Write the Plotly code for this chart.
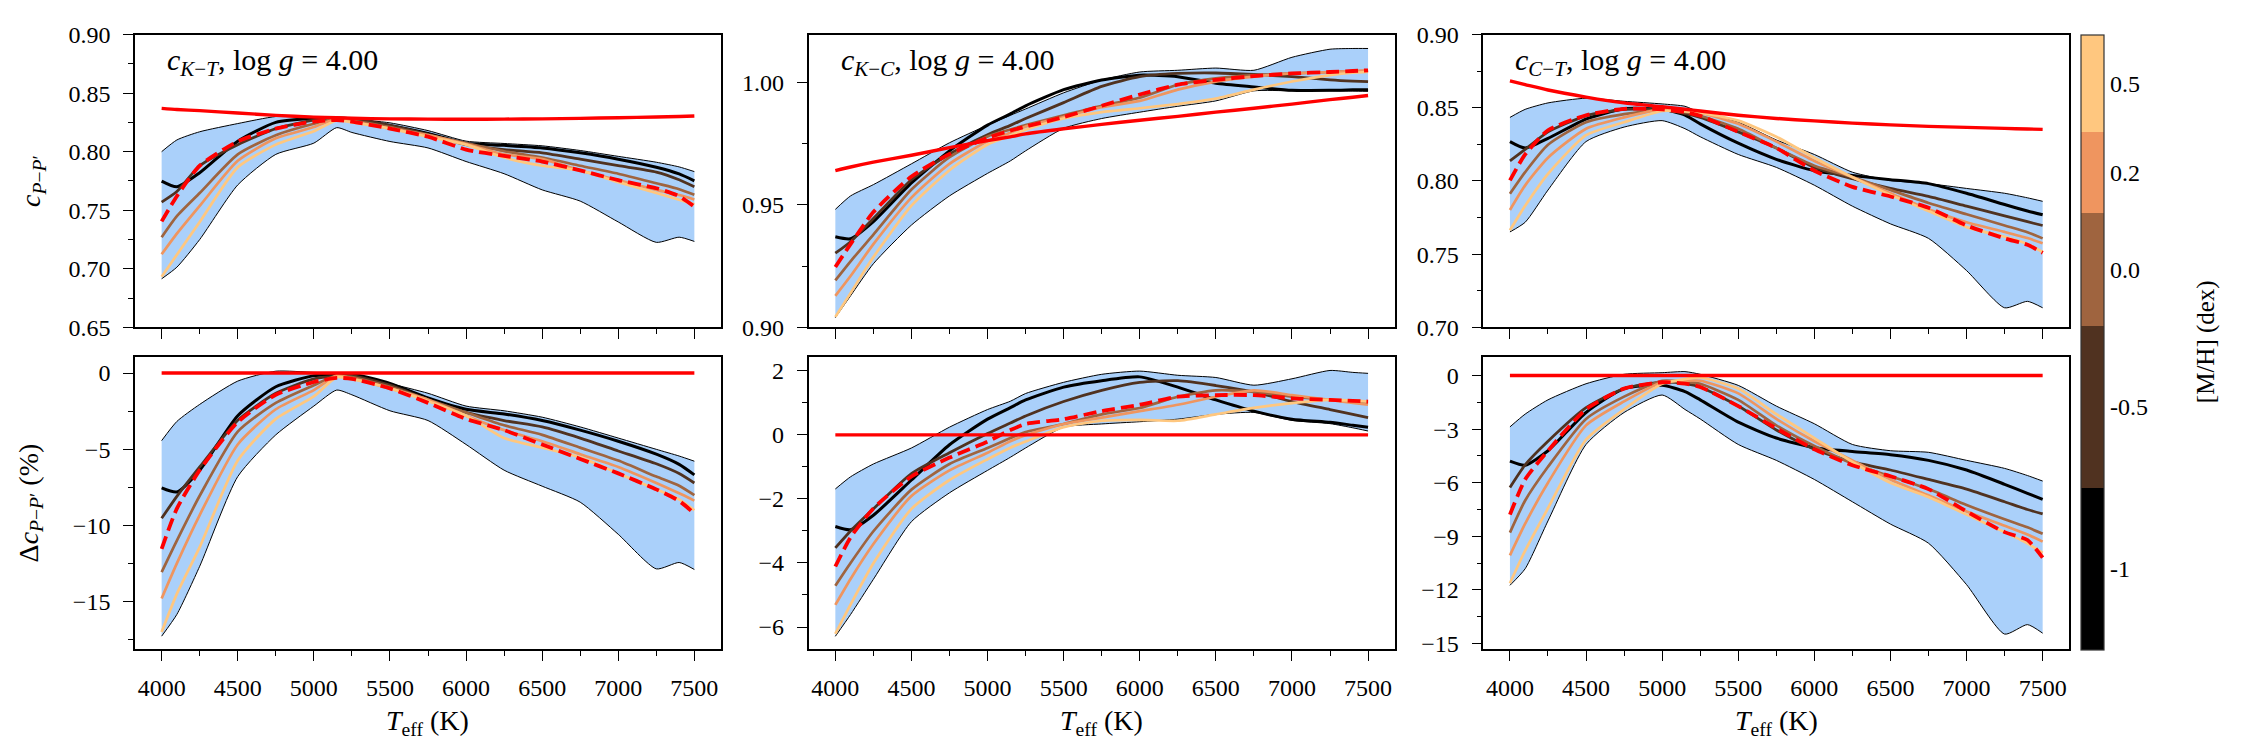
import plotly.graph_objects as go

# ---------------- data ----------------
TEFF = [4000, 4100, 4250, 4500, 4750, 5000, 5150, 5250, 5500, 5750,
        6000, 6250, 6500, 6750, 7000, 7250, 7400, 7500]
MH = [-1.0, -0.5, 0.0, 0.2, 0.5]
MH_LABELS = ["-1", "-0.5", "0.0", "0.2", "0.5"]
PANEL_TITLES = ["K−T", "K−C", "C−T"]
LOGG = "4.00"

# c_{K-T}
KT_REF = [0.837, 0.836, 0.835, 0.833, 0.831, 0.8295, 0.829, 0.8285, 0.828, 0.8278,
          0.8277, 0.8278, 0.828, 0.8284, 0.829, 0.8296, 0.830, 0.8305]
KT_UP = [0.800, 0.810, 0.817, 0.824, 0.830, 0.830, 0.829, 0.828, 0.8246, 0.818,
         0.809, 0.807, 0.805, 0.801, 0.796, 0.791, 0.787, 0.783]
KT_LO = [0.6915, 0.7014, 0.725, 0.7716, 0.7977, 0.8073, 0.8205, 0.8164, 0.8087, 0.8032,
         0.7916, 0.7812, 0.7674, 0.7578, 0.740, 0.7226, 0.727, 0.7234]
KT_M10 = [0.7749, 0.770, 0.782, 0.809, 0.825, 0.8285, 0.8288, 0.828, 0.8224, 0.8156,
          0.8073, 0.8054, 0.8032, 0.799, 0.7936, 0.7867, 0.781, 0.7751]
KT_M05 = [0.757, 0.766, 0.788, 0.806, 0.8197, 0.827, 0.8285, 0.828, 0.8224, 0.8147,
          0.806, 0.8018, 0.799, 0.7936, 0.788, 0.7826, 0.776, 0.770]
KT_P00 = [0.727, 0.745, 0.7647, 0.7977, 0.814, 0.8238, 0.828, 0.8266, 0.821, 0.8142,
          0.8073, 0.8004, 0.795, 0.788, 0.7812, 0.773, 0.768, 0.7633]
KT_P02 = [0.7124, 0.730, 0.7537, 0.7922, 0.8114, 0.821, 0.828, 0.826, 0.8197, 0.8142,
          0.8065, 0.7977, 0.7936, 0.784, 0.7757, 0.7674, 0.763, 0.7592]
KT_P05 = [0.6932, 0.712, 0.740, 0.7867, 0.806, 0.8175, 0.8266, 0.825, 0.8197, 0.8128,
          0.806, 0.795, 0.788, 0.784, 0.774, 0.7647, 0.759, 0.755]
KT_DASH = [0.7405, 0.762, 0.788, 0.8087, 0.8197, 0.8257, 0.827, 0.8257, 0.8197, 0.8128,
           0.8018, 0.7964, 0.7916, 0.784, 0.7757, 0.7688, 0.762, 0.7531]

# Delta c_{K-T} (%)
DKT_REF = [0.0, 0.0, 0.0, 0.0, 0.0, 0.0, 0.0, 0.0, 0.0, 0.0,
           0.0, 0.0, 0.0, 0.0, 0.0, 0.0, 0.0, 0.0]
DKT_UP = [-4.44, -3.18, -2.06, -0.53, 0.12, 0.04, 0.0, -0.06, -0.69, -1.33,
          -2.17, -2.48, -2.9, -3.54, -4.27, -5.01, -5.45, -5.79]
DKT_LO = [-17.28, -15.85, -12.69, -6.8, -4.06, -2.17, -1.12, -1.43, -2.48, -3.12,
          -4.69, -6.38, -7.43, -8.48, -10.59, -12.86, -12.44, -12.9]
DKT_M10 = [-7.54, -7.81, -6.38, -2.8, -0.9, -0.17, -0.1, -0.06, -0.69, -1.64,
           -2.38, -2.69, -3.12, -3.75, -4.48, -5.33, -6.0, -6.69]
DKT_M05 = [-9.54, -8.1, -6.17, -3.1, -1.33, -0.38, -0.2, -0.17, -0.8, -1.75,
           -2.59, -3.12, -3.54, -4.27, -5.12, -5.96, -6.6, -7.22]
DKT_P00 = [-13.07, -11.0, -8.06, -3.85, -1.96, -0.8, -0.17, -0.27, -0.9, -1.75,
           -2.59, -3.43, -4.06, -4.9, -5.75, -6.8, -7.4, -8.02]
DKT_P02 = [-14.8, -12.5, -9.33, -4.69, -2.38, -1.12, -0.17, -0.35, -1.01, -1.75,
           -2.8, -3.75, -4.48, -5.33, -6.17, -7.22, -7.9, -8.38]
DKT_P05 = [-17.0, -14.5, -11.43, -5.75, -3.01, -1.54, -0.27, -0.4, -1.01, -1.85,
           -2.8, -4.27, -4.9, -5.54, -6.59, -7.64, -8.3, -9.01]
DKT_DASH = [-11.54, -8.9, -6.38, -3.22, -1.43, -0.59, -0.32, -0.38, -1.01, -1.96,
            -3.01, -3.75, -4.69, -5.64, -6.59, -7.64, -8.4, -9.22]

# c_{K-C}
KC_REF = [0.964, 0.9655, 0.9675, 0.9703, 0.9734, 0.9763, 0.9778, 0.979, 0.9811, 0.9829,
          0.9846, 0.9862, 0.9879, 0.9895, 0.9912, 0.993, 0.994, 0.9947]
KC_UP = [0.9482, 0.9537, 0.9583, 0.9668, 0.9754, 0.9826, 0.9866, 0.9892, 0.9958, 1.001,
         1.0043, 1.005, 1.0059, 1.005, 1.0103, 1.0136, 1.0139, 1.0139]
KC_LO = [0.904, 0.9129, 0.926, 0.9418, 0.9537, 0.9629, 0.968, 0.9721, 0.9813, 0.9853,
         0.9879, 0.9903, 0.9925, 0.9966, 0.9966, 0.9966, 0.9965, 0.9964]
KC_M10 = [0.937, 0.9362, 0.9432, 0.959, 0.9721, 0.9826, 0.9872, 0.9905, 0.9971, 1.001,
          1.003, 1.0024, 0.9997, 0.9982, 0.9968, 0.9968, 0.997, 0.9971]
KC_M05 = [0.9303, 0.935, 0.9445, 0.9603, 0.9708, 0.9787, 0.9825, 0.9853, 0.9918, 0.9984,
          1.0024, 1.0037, 1.0039, 1.0033, 1.0024, 1.0011, 1.0006, 1.0004]
KC_P00 = [0.9192, 0.927, 0.9379, 0.9563, 0.9695, 0.978, 0.9808, 0.9826, 0.9866, 0.9905,
          0.9938, 0.9991, 1.0017, 1.003, 1.0037, 1.0043, 1.0046, 1.0047]
KC_P02 = [0.9129, 0.921, 0.934, 0.953, 0.9668, 0.976, 0.9795, 0.982, 0.9859, 0.9899,
          0.9925, 0.9971, 1.0004, 1.0024, 1.0037, 1.0043, 1.0047, 1.005]
KC_P05 = [0.9043, 0.914, 0.9287, 0.9497, 0.9642, 0.9747, 0.9783, 0.9807, 0.9853, 0.9879,
          0.9895, 0.9912, 0.9934, 0.9971, 1.0004, 1.003, 1.004, 1.0043]
KC_DASH = [0.9247, 0.934, 0.9471, 0.9616, 0.9708, 0.9774, 0.9803, 0.982, 0.9859, 0.9905,
           0.9951, 0.9991, 1.0011, 1.0026, 1.0037, 1.0043, 1.0047, 1.005]

# Delta c_{K-C} (%)
DKC_REF = [0.0, 0.0, 0.0, 0.0, 0.0, 0.0, 0.0, 0.0, 0.0, 0.0,
           0.0, 0.0, 0.0, 0.0, 0.0, 0.0, 0.0, 0.0]
DKC_UP = [-1.69, -1.31, -0.91, -0.41, 0.24, 0.79, 1.05, 1.29, 1.64, 1.89,
          1.99, 1.86, 1.79, 1.55, 1.75, 2.01, 1.95, 1.92]
DKC_LO = [-6.29, -5.61, -4.51, -2.71, -1.81, -1.11, -0.7, -0.41, 0.24, 0.34,
          0.41, 0.49, 0.64, 0.7, 0.45, 0.35, 0.22, 0.12]
DKC_M10 = [-2.86, -2.96, -2.51, -1.41, -0.31, 0.49, 0.85, 1.09, 1.49, 1.69,
           1.81, 1.49, 1.09, 0.74, 0.49, 0.39, 0.3, 0.24]
DKC_M05 = [-3.53, -3.0, -2.31, -1.21, -0.56, 0.04, 0.37, 0.59, 1.04, 1.39,
           1.64, 1.69, 1.54, 1.34, 1.04, 0.79, 0.64, 0.54]
DKC_P00 = [-4.71, -4.0, -3.01, -1.71, -0.91, -0.41, -0.1, 0.09, 0.34, 0.64,
           0.84, 1.19, 1.39, 1.34, 1.19, 1.09, 1.03, 0.99]
DKC_P02 = [-5.31, -4.5, -3.41, -1.91, -1.11, -0.56, -0.2, -0.01, 0.34, 0.54,
           0.74, 0.94, 1.19, 1.39, 1.24, 1.09, 1.0, 0.94]
DKC_P05 = [-6.21, -5.3, -4.01, -2.31, -1.41, -0.76, -0.4, -0.21, 0.24, 0.44,
           0.47, 0.44, 0.64, 0.84, 0.99, 1.09, 1.07, 1.04]
DKC_DASH = [-4.11, -3.2, -2.3, -1.3, -0.71, -0.21, 0.15, 0.34, 0.49, 0.74,
            0.94, 1.19, 1.24, 1.24, 1.14, 1.09, 1.06, 1.04]

# c_{C-T}
CT_REF = [0.8683, 0.8658, 0.8621, 0.8573, 0.8533, 0.8507, 0.849, 0.8478, 0.8449, 0.8427,
          0.841, 0.8395, 0.8383, 0.8373, 0.8366, 0.8359, 0.8355, 0.8352]
CT_UP = [0.8434, 0.8489, 0.8533, 0.8565, 0.8544, 0.8526, 0.851, 0.8467, 0.8401, 0.828,
         0.8181, 0.806, 0.8004, 0.7982, 0.7949, 0.7916, 0.7885, 0.7861]
CT_LO = [0.7652, 0.7718, 0.7938, 0.8269, 0.8368, 0.8412, 0.8357, 0.8302, 0.8181, 0.8093,
         0.7971, 0.7828, 0.7707, 0.7608, 0.7388, 0.7134, 0.7178, 0.7134]
CT_M10 = [0.8269, 0.8225, 0.8291, 0.8423, 0.8493, 0.8489, 0.845, 0.839, 0.8258, 0.8148,
          0.807, 0.8037, 0.8009, 0.7982, 0.7916, 0.7839, 0.7795, 0.7769]
CT_M05 = [0.8137, 0.8215, 0.8335, 0.8445, 0.8489, 0.8485, 0.846, 0.8434, 0.8335, 0.8225,
          0.8093, 0.8015, 0.7949, 0.7894, 0.7828, 0.7762, 0.7722, 0.7696]
CT_P00 = [0.7912, 0.806, 0.8247, 0.8401, 0.8456, 0.8485, 0.847, 0.8445, 0.8357, 0.8225,
          0.8104, 0.8026, 0.7938, 0.785, 0.7773, 0.7696, 0.765, 0.7608]
CT_P02 = [0.7802, 0.797, 0.8159, 0.8357, 0.8434, 0.8489, 0.848, 0.8467, 0.839, 0.8269,
          0.8137, 0.8026, 0.7916, 0.7806, 0.7718, 0.7652, 0.761, 0.7575]
CT_P05 = [0.7663, 0.783, 0.8048, 0.8313, 0.8401, 0.8478, 0.8475, 0.8467, 0.8412, 0.8302,
          0.8159, 0.8026, 0.7905, 0.7795, 0.7685, 0.7619, 0.757, 0.7515]
CT_DASH = [0.8004, 0.8181, 0.8346, 0.8449, 0.8493, 0.8489, 0.847, 0.8445, 0.8335, 0.8225,
           0.807, 0.796, 0.7894, 0.7817, 0.7696, 0.7608, 0.7564, 0.7509]

# Delta c_{C-T} (%)
DCT_REF = [0.0, 0.0, 0.0, 0.0, 0.0, 0.0, 0.0, 0.0, 0.0, 0.0,
           0.0, 0.0, 0.0, 0.0, 0.0, 0.0, 0.0, 0.0]
DCT_UP = [-2.875, -2.16, -1.36, -0.46, 0.07, 0.16, 0.22, 0.07, -0.55, -1.71,
          -2.7, -3.86, -4.21, -4.3, -4.75, -5.2, -5.6, -5.91]
DCT_LO = [-11.75, -10.82, -8.14, -3.86, -2.07, -1.09, -1.9, -2.43, -3.86, -4.75,
          -5.82, -7.07, -8.32, -9.39, -11.71, -14.48, -13.95, -14.43]
DCT_M10 = [-4.79, -5.02, -4.21, -2.07, -0.73, -0.55, -0.9, -1.36, -2.61, -3.5,
           -4.04, -4.25, -4.43, -4.75, -5.29, -6.09, -6.6, -6.93]
DCT_M05 = [-6.27, -5.0, -3.68, -1.8, -0.73, -0.375, -0.45, -0.64, -1.71, -3.05,
           -4.13, -4.84, -5.29, -5.82, -6.36, -7.07, -7.5, -7.75]
DCT_P00 = [-8.8, -7.0, -5.11, -2.43, -1.18, -0.29, -0.35, -0.46, -1.36, -2.79,
           -3.95, -4.93, -5.64, -6.36, -7.25, -8.05, -8.5, -8.86]
DCT_P02 = [-10.07, -8.3, -6.0, -2.79, -1.45, -0.375, -0.3, -0.29, -1.0, -2.43,
           -3.68, -4.75, -5.82, -6.71, -7.61, -8.41, -8.9, -9.3]
DCT_P05 = [-11.63, -9.8, -7.43, -3.59, -1.89, -0.46, -0.2, -0.11, -0.73, -2.16,
           -3.5, -4.84, -6.0, -6.8, -7.79, -8.77, -9.4, -9.93]
DCT_DASH = [-7.79, -5.82, -4.21, -1.89, -0.73, -0.375, -0.45, -0.64, -1.71, -2.96,
            -4.13, -5.02, -5.64, -6.36, -7.61, -8.77, -9.21, -10.2]

# ---------------- styling ----------------
FONT = "Liberation Serif, Times New Roman, serif"
W, H = 2250, 750
METAL_COLORS = ["#000000", "#503220", "#9F643F", "#EF955F", "#FFC77F"]
METAL_WIDTHS = [3.0, 2.8, 2.7, 2.7, 2.7]
BAND_FILL = "#AAD0FA"
RED = "#FF0000"

# pixel layout -> paper fractions
COL_X = [(135.0, 721.0), (808.7, 1394.7), (1483.3, 2069.3)]
ROW_Y = [(22.3, 325.7), (356.7, 659.3)]

panels = [
    (0, 0, KT_REF, KT_UP, KT_LO, [KT_M10, KT_M05, KT_P00, KT_P02, KT_P05], KT_DASH,
     [0.65, 0.90], 0.05, 0.025, ".2f"),
    (0, 1, KC_REF, KC_UP, KC_LO, [KC_M10, KC_M05, KC_P00, KC_P02, KC_P05], KC_DASH,
     [0.90, 1.0196], 0.05, 0.025, ".2f"),
    (0, 2, CT_REF, CT_UP, CT_LO, [CT_M10, CT_M05, CT_P00, CT_P02, CT_P05], CT_DASH,
     [0.70, 0.90], 0.05, 0.025, ".2f"),
    (1, 0, DKT_REF, DKT_UP, DKT_LO, [DKT_M10, DKT_M05, DKT_P00, DKT_P02, DKT_P05], DKT_DASH,
     [-18.15, 1.03], 5, 2.5, "d"),
    (1, 1, DKC_REF, DKC_UP, DKC_LO, [DKC_M10, DKC_M05, DKC_P00, DKC_P02, DKC_P05], DKC_DASH,
     [-6.70, 2.42], 2, 1, "d"),
    (1, 2, DCT_REF, DCT_UP, DCT_LO, [DCT_M10, DCT_M05, DCT_P00, DCT_P02, DCT_P05], DCT_DASH,
     [-15.34, 1.02], 3, 1.5, "d"),
]

fig = go.Figure()
layout = {}
SPL = dict(shape="spline", smoothing=0.6)

for i, (r, c, ref, up, lo, lines, dash, yr, dt, mdt, fmt) in enumerate(panels):
    n = i + 1
    xa = "x" if n == 1 else f"x{n}"
    ya = "y" if n == 1 else f"y{n}"
    fig.add_trace(go.Scatter(x=TEFF, y=lo, xaxis=xa, yaxis=ya, mode="lines",
                             line=dict(color="black", width=1.0, **SPL), showlegend=False))
    fig.add_trace(go.Scatter(x=TEFF, y=up, xaxis=xa, yaxis=ya, mode="lines",
                             fill="tonexty", fillcolor=BAND_FILL,
                             line=dict(color="black", width=1.0, **SPL), showlegend=False))
    for ys, col, lw in zip(lines, METAL_COLORS, METAL_WIDTHS):
        fig.add_trace(go.Scatter(x=TEFF, y=ys, xaxis=xa, yaxis=ya, mode="lines",
                                 line=dict(color=col, width=lw, **SPL), showlegend=False))
    fig.add_trace(go.Scatter(x=TEFF, y=dash, xaxis=xa, yaxis=ya, mode="lines",
                             line=dict(color=RED, width=3.8, dash="13px,6px", **SPL),
                             showlegend=False))
    fig.add_trace(go.Scatter(x=TEFF, y=ref, xaxis=xa, yaxis=ya, mode="lines",
                             line=dict(color=RED, width=3.4, **SPL), showlegend=False))

    x0, x1 = COL_X[c]
    y0, y1 = ROW_Y[r]
    axis_common = dict(showline=True, linecolor="black", linewidth=1.6, mirror=True,
                       ticks="outside", ticklen=10, tickwidth=1.4, tickcolor="black",
                       showgrid=False, zeroline=False,
                       tickfont=dict(family=FONT, size=24, color="black"))
    layout["xaxis" if n == 1 else f"xaxis{n}"] = dict(
        domain=[x0 / W, x1 / W], anchor=ya, range=[3825, 7675],
        tick0=4000, dtick=500, showticklabels=(r == 1),
        minor=dict(ticks="outside", ticklen=5, tickwidth=1.2, tickcolor="black",
                   dtick=250, tick0=4000),
        ticklabelstandoff=6,
        **axis_common)
    layout["yaxis" if n == 1 else f"yaxis{n}"] = dict(
        domain=[1 - y1 / H, 1 - y0 / H], anchor=xa, range=yr,
        tick0=0, dtick=dt, tickformat=fmt,
        minor=dict(ticks="outside", ticklen=5, tickwidth=1.2, tickcolor="black",
                   dtick=mdt, tick0=0),
        ticklabelstandoff=8,
        **axis_common)

# colorbar (discrete copper levels)
bounds = [-1.25, -0.75, -0.25, 0.1, 0.35, 0.65]
lo_b, hi_b = bounds[0], bounds[-1]
cscale = []
for k, col in enumerate(METAL_COLORS):
    a = (bounds[k] - lo_b) / (hi_b - lo_b)
    b = (bounds[k + 1] - lo_b) / (hi_b - lo_b)
    cscale += [[a, col], [b, col]]
centers = [(bounds[k] + bounds[k + 1]) / 2 for k in range(len(MH))]

fig.add_trace(go.Scatter(
    x=[None] * len(MH), y=[None] * len(MH), mode="markers", showlegend=False,
    marker=dict(color=MH, colorscale=cscale, cmin=lo_b, cmax=hi_b, showscale=True,
                colorbar=dict(thickness=23, thicknessmode="pixels",
                              len=(659.5 - 22.3) / H, lenmode="fraction",
                              x=2080.7 / W, xanchor="left", y=1 - (22.3 + 659.5) / 2 / H,
                              yanchor="middle", xpad=0, ypad=0,
                              outlinewidth=1.2, outlinecolor="#333333",
                              ticks="", ticklen=0, tickvals=centers, ticktext=MH_LABELS,
                              tickfont=dict(family=FONT, size=24, color="black")))))

annotations = []
for c, name in enumerate(PANEL_TITLES):
    p, q = name.split("−")
    annotations.append(dict(
        x=(COL_X[c][0] + 30) / W, y=1 - 51 / H, xref="paper", yref="paper",
        xanchor="left", yanchor="middle", showarrow=False,
        text=f"<i>c</i><sub><i>{p}</i>−<i>{q}</i></sub>, log <i>g</i> = {LOGG}",
        font=dict(family=FONT, size=30, color="black")))
    annotations.append(dict(
        x=(COL_X[c][0] + COL_X[c][1]) / 2 / W, y=1 - 735 / H, xref="paper", yref="paper",
        xanchor="center", yanchor="middle", showarrow=False,
        text="<i>T</i><sub>eff</sub> (K)",
        font=dict(family=FONT, size=28, color="black")))

annotations.append(dict(
    x=33 / W, y=1 - 174 / H, xref="paper", yref="paper", textangle=-90,
    xanchor="center", yanchor="middle", showarrow=False,
    text="<i>c</i><sub><i>P</i>−<i>P</i>′</sub>",
    font=dict(family=FONT, size=28, color="black")))
annotations.append(dict(
    x=30 / W, y=1 - 508 / H, xref="paper", yref="paper", textangle=-90,
    xanchor="center", yanchor="middle", showarrow=False,
    text="Δ<i>c</i><sub><i>P</i>−<i>P</i>′</sub> (%)",
    font=dict(family=FONT, size=28, color="black")))
annotations.append(dict(
    x=2206 / W, y=1 - 341 / H, xref="paper", yref="paper", textangle=-90,
    xanchor="center", yanchor="middle", showarrow=False,
    text="[M/H] (dex)",
    font=dict(family=FONT, size=25, color="black")))

fig.update_layout(width=W, height=H, margin=dict(l=0, r=0, t=0, b=0),
                  font=dict(family=FONT, size=24, color="black"),
                  plot_bgcolor="white", paper_bgcolor="white",
                  annotations=annotations, **layout)

fig.write_html("out.html")
